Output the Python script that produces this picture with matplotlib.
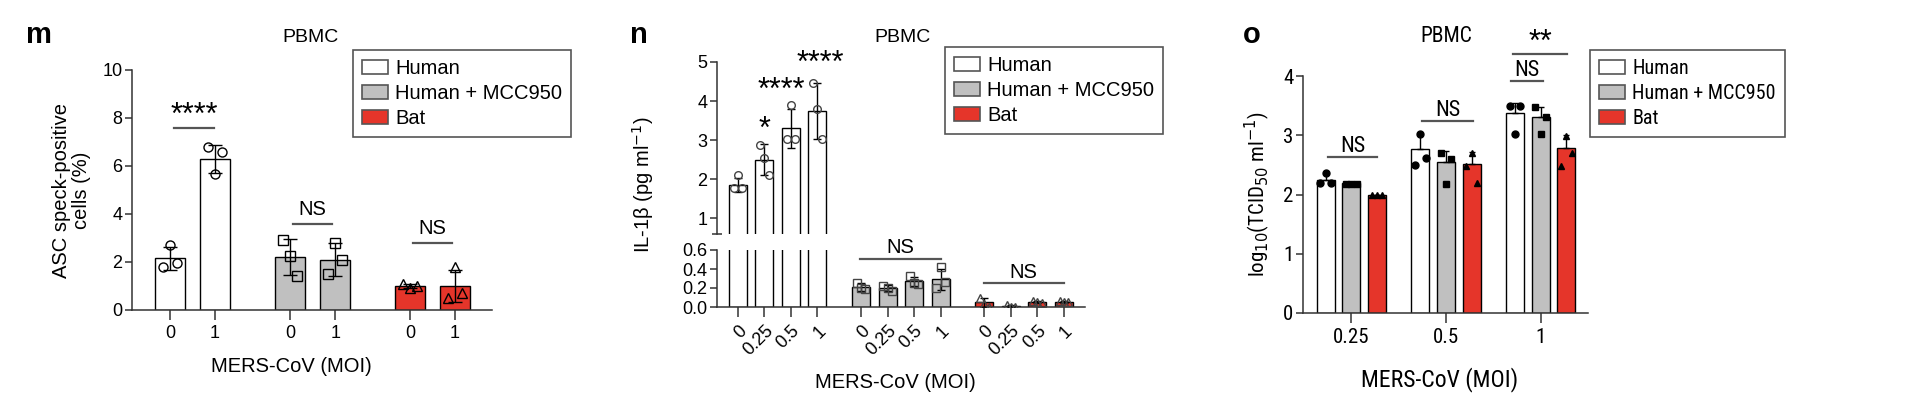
import numpy as np
import matplotlib
matplotlib.use('Agg')
import matplotlib.pyplot as plt
from matplotlib.patches import Patch

plt.rcParams['font.family'] = ['Liberation Sans', 'DejaVu Sans']

groups = ['Human', 'Human + MCC950', 'Bat']
colors = ['white', '#c0c0c0', '#e5352a']

# panel m: ASC speck-positive cells (%)
m_moi = ['0', '1']
m_mean = [[2.15, 6.3], [2.2, 2.1], [1.0, 1.0]]
m_sd = [[0.47, 0.58], [0.75, 0.68], [0.1, 0.67]]
m_pts = [[[1.8, 2.7, 1.95], [6.8, 5.67, 6.6]],
         [[2.9, 2.25, 1.4], [1.5, 2.8, 2.08]],
         [[1.1, 0.9, 1.0], [0.5, 1.8, 0.7]]]

# panel n: IL-1beta (pg/ml)
n_moi = ['0', '0.25', '0.5', '1']
n_mean = [[1.85, 2.5, 3.3, 3.75], [0.21, 0.2, 0.27, 0.29], [0.05, 0.01, 0.05, 0.05]]
n_sd = [[0.18, 0.4, 0.5, 0.72], [0.04, 0.03, 0.05, 0.11], [0.05, 0.01, 0.01, 0.01]]
n_pts = [[[1.77, 2.1, 1.77], [2.87, 2.54, 2.1], [3.03, 3.9, 3.03], [4.46, 3.8, 3.03]],
         [[0.25, 0.2, 0.19], [0.22, 0.2, 0.17], [0.33, 0.25, 0.24], [0.2, 0.42, 0.26]],
         [[0.1, 0.03, 0.0], [0.02, 0.0, 0.0], [0.06, 0.05, 0.04], [0.06, 0.05, 0.05]]]

# panel o: log10(TCID50/ml)
o_moi = ['0.25', '0.5', '1']
o_mean = [[2.25, 2.76, 3.38], [2.19, 2.55, 3.31], [2.0, 2.52, 2.78]]
o_sd = [[0.09, 0.27, 0.16], [0.01, 0.19, 0.17], [0.0, 0.19, 0.23]]
o_pts = [[[2.19, 2.36, 2.19], [2.5, 3.02, 2.62], [3.5, 3.02, 3.5]],
         [[2.18, 2.18, 2.18], [2.7, 2.17, 2.6], [3.48, 3.02, 3.3]],
         [[2.0, 2.0, 2.0], [2.48, 2.7, 2.19], [2.48, 2.99, 2.7]]]

jit = [-0.16, 0.0, 0.16]
line_col = '#555555'
W, H = 1913, 412

fig = plt.figure(figsize=(W / 100, H / 100), dpi=100)


def fig_ax(x0, y0, x1, y1):
    # pixel box (top-left origin) -> figure axes
    return fig.add_axes([x0 / W, 1 - y1 / H, (x1 - x0) / W, (y1 - y0) / H])


def style(ax, bottom=True):
    for s in ['top', 'right']:
        ax.spines[s].set_visible(False)
    for s in ['left', 'bottom']:
        ax.spines[s].set_color('#333333')
        ax.spines[s].set_linewidth(1.1)
    ax.tick_params(axis='y', length=5, width=1.1, color='#333333', labelsize=13, pad=2)
    ax.tick_params(axis='x', length=7, width=1.1, color='#333333', labelsize=13)
    if not bottom:
        ax.spines['bottom'].set_visible(False)
        ax.tick_params(axis='x', bottom=False, labelbottom=False)


def sig(ax, x0, x1, y, text, ty, size=14.5, **kw):
    if x1 > x0:
        ax.plot([x0, x1], [y, y], color=line_col, lw=1.6, clip_on=False)
    ax.text((x0 + x1) / 2, ty, text, ha='center', va='baseline', fontsize=size,
            clip_on=False, **kw)


def draw_bars(ax, xs, mean, sd, pts, color, width, marker, mfc, mec, ms, capsize,
              lower=True, jscale=1.0):
    ax.bar(xs, mean, width=width, color=color, edgecolor='black', linewidth=1.0, zorder=2)
    yerr = [sd, sd] if lower else [np.zeros(len(sd)), sd]
    ax.errorbar(xs, mean, yerr=yerr, fmt='none', ecolor='black', elinewidth=1.0,
                capsize=capsize, capthick=1.0, zorder=3)
    for x, p in zip(xs, pts):
        ax.plot([x + j * jscale for j in jit[:len(p)]], p, linestyle='none', marker=marker,
                mfc=mfc, mec=mec, ms=ms, mew=1.0, zorder=4, clip_on=True)


# ---------------- panel m ----------------
axm = fig_ax(132, 70, 492, 310)
m_pos = [[0, 1], [2.67, 3.67], [5.33, 6.33]]
m_mark = ['o', 's', '^']
for g in range(3):
    draw_bars(axm, m_pos[g], m_mean[g], m_sd[g], m_pts[g], colors[g], 0.667,
              m_mark[g], 'none', 'black', 6.5, 5)
axm.set_xlim(-0.84, 7.15)
axm.set_ylim(0, 10)
axm.set_yticks([0, 2, 4, 6, 8, 10])
axm.set_xticks([p for g in m_pos for p in g])
axm.set_xticklabels(m_moi * 3)
style(axm)
axm.set_ylabel('ASC speck-positive\ncells (%)', fontsize=14.5, labelpad=8, linespacing=1.1)
sig(axm, 0.1, 0.97, 7.6, '****', 7.75, size=22)
sig(axm, 2.73, 3.6, 3.6, 'NS', 3.95)
sig(axm, 5.4, 6.27, 2.8, 'NS', 3.15)
fig.text(291 / W, 1 - 367 / H, 'MERS-CoV (MOI)', ha='center', va='center', fontsize=14.5)
fig.text(310 / W, 1 - 37 / H, 'PBMC', ha='center', va='center', fontsize=14)
fig.text(26 / W, 1 - 35 / H, 'm', ha='left', va='center', fontsize=21, fontweight='bold')

# ---------------- panel n ----------------
axn_hi = fig_ax(717, 62, 1085, 234)
axn_lo = fig_ax(717, 250, 1085, 307)
n_pos = [[0, 1, 2, 3], [4.65, 5.65, 6.65, 7.65], [9.3, 10.3, 11.3, 12.3]]
for ax in [axn_hi, axn_lo]:
    for g in range(3):
        draw_bars(ax, n_pos[g], n_mean[g], n_sd[g], n_pts[g], colors[g], 0.68,
                  m_mark[g], 'none', '#444444', 5.5, 3)
    ax.set_xlim(-0.79, 13.1)
axn_hi.set_ylim(0.6, 5)
axn_hi.set_yticks([1, 2, 3, 4, 5])
axn_hi.set_yticks([0.6], minor=True)
axn_lo.set_ylim(0, 0.6)
axn_lo.set_yticks([0, 0.2, 0.4, 0.6])
axn_lo.set_yticklabels(['0.0', '0.2', '0.4', '0.6'])
axn_lo.set_xticks([p for g in n_pos for p in g])
axn_lo.set_xticklabels(n_moi * 3, rotation=45, ha='right', rotation_mode='anchor')
style(axn_hi, bottom=False)
style(axn_lo)
axn_hi.tick_params(axis='y', which='minor', length=7, direction='inout', width=1.1,
                   color='#333333')
axn_lo.tick_params(axis='x', pad=4)
sig(axn_hi, 1, 1, 0, '*', 3.05, size=22)
sig(axn_hi, 1.65, 1.65, 0, '****', 4.05, size=22)
sig(axn_hi, 3.12, 3.12, 0, '****', 4.75, size=22)
sig(axn_lo, 4.6, 7.66, 0.51, 'NS', 0.57)
sig(axn_lo, 9.28, 12.3, 0.25, 'NS', 0.31)
fig.text(643 / W, 1 - 185 / H, 'IL-1β (pg ml$^{-1}$)', ha='center', va='center',
         rotation=90, fontsize=14.5)
fig.text(895 / W, 1 - 382 / H, 'MERS-CoV (MOI)', ha='center', va='center', fontsize=14.5)
fig.text(903 / W, 1 - 37 / H, 'PBMC', ha='center', va='center', fontsize=14)
fig.text(630 / W, 1 - 35 / H, 'n', ha='left', va='center', fontsize=21, fontweight='bold')

# ---------------- panel o (condensed type) ----------------
narrow = ['Roboto Condensed', 'Liberation Sans']
axo = fig_ax(1303, 76, 1588, 313)
o_off = [-0.27, 0.0, 0.27]
o_mark = ['o', 's', '^']
base = np.arange(len(o_moi))
for g in range(3):
    draw_bars(axo, base + o_off[g], o_mean[g], o_sd[g], o_pts[g], colors[g], 0.19,
              o_mark[g], 'black', 'black', 5, 2.5, lower=False, jscale=0.35)
axo.set_xlim(-0.51, 2.5)
axo.set_ylim(0, 4)
axo.set_yticks([0, 1, 2, 3, 4])
axo.set_xticks(base)
axo.set_xticklabels(o_moi)
style(axo)
for lab in axo.get_xticklabels() + axo.get_yticklabels():
    lab.set_family(narrow)
    lab.set_fontsize(15)
axo.set_ylabel(r'log$_{10}$(TCID$_{50}$ ml$^{-1}$)', fontsize=15, labelpad=8, family=narrow)
sig(axo, -0.25, 0.275, 2.64, 'NS', 2.72, family=narrow, size=16)
sig(axo, 0.75, 1.29, 3.24, 'NS', 3.32, family=narrow, size=16)
sig(axo, 1.69, 2.02, 3.92, 'NS', 4.0, family=narrow, size=16)
sig(axo, 1.71, 2.28, 4.37, '**', 4.42, size=22)
fig.text(1440 / W, 1 - 380 / H, 'MERS-CoV (MOI)', ha='center', va='center', fontsize=17,
         family=narrow)
fig.text(1446 / W, 1 - 37 / H, 'PBMC', ha='center', va='center', fontsize=15.5, family=narrow)
fig.text(1243 / W, 1 - 35 / H, 'o', ha='left', va='center', fontsize=21, fontweight='bold')

# legends
handles = [Patch(facecolor=c, edgecolor='#555555', linewidth=1.2) for c in colors]
for (x, y), prop in [((353, 50), {'size': 14.5}), ((945, 47), {'size': 14.5}),
                     ((1590, 50), {'family': narrow, 'size': 14.5})]:
    leg = fig.legend(handles, groups, loc='upper left', bbox_to_anchor=(x / W, 1 - y / H),
                     bbox_transform=fig.transFigure, borderaxespad=0, fancybox=False,
                     edgecolor='#555555', framealpha=1,
                     handlelength=1.3, handleheight=0.75, handletextpad=0.35,
                     labelspacing=0.3, borderpad=0.45, prop=prop)
    leg.get_frame().set_linewidth(1.2)

fig.savefig('out.png', dpi=100)
